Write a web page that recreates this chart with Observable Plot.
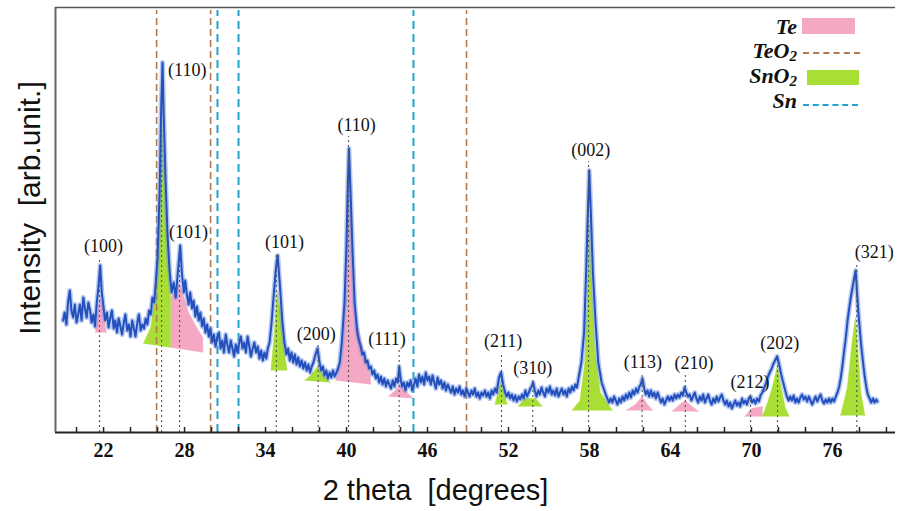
<!DOCTYPE html>
<html><head><meta charset="utf-8">
<script src="https://cdn.jsdelivr.net/npm/d3@7"></script>
<script src="https://cdn.jsdelivr.net/npm/@observablehq/plot@0.6"></script>
<style>
body{margin:0;background:#fff;}
#wrap{position:relative;width:897px;height:511px;overflow:hidden;}
.lg{position:absolute;font-family:"Liberation Serif","DejaVu Serif",serif;font-weight:bold;font-style:italic;font-size:22px;color:#111;text-align:right;width:80px;line-height:22px;}
.lg sub{font-size:15px;vertical-align:-3px;line-height:0;}
.sw{position:absolute;}
</style></head>
<body><div id="wrap"></div>
<script>
// ---- data ----
// XRD scan: [2theta (deg), intensity (arb.)]
const scan = [
[19.0,112],[19.12,120],[19.25,108],[19.37,130],[19.5,142],[19.62,122],[19.75,115],[19.87,128],[20.0,110],[20.12,118],[20.25,128],[20.37,112],[20.5,135],[20.62,124],[20.75,115],[20.87,130],[21.0,122],[21.12,110],[21.25,118],[21.37,106],[21.5,130],[21.62,145],[21.75,167],[21.87,140],[22.0,125],[22.12,112],[22.25,120],[22.37,105],[22.5,115],[22.62,122],[22.75,104],[22.87,112],[23.0,100],[23.12,114],[23.25,106],[23.37,98],[23.5,110],[23.62,118],[23.75,102],[23.87,108],[24.0,96],[24.12,112],[24.25,104],[24.37,96],[24.5,110],[24.62,118],[24.75,102],[24.87,108],[25.0,104],[25.12,114],[25.25,108],[25.37,122],[25.5,118],[25.62,135],[25.75,130],[25.87,150],[26.0,175],[26.15,240],[26.28,330],[26.37,370],[26.45,320],[26.6,250],[26.75,195],[26.9,160],[27.05,140],[27.2,150],[27.35,135],[27.5,160],[27.6,175],[27.68,187],[27.8,160],[27.95,140],[28.05,152],[28.17,138],[28.3,128],[28.42,140],[28.55,124],[28.67,132],[28.8,116],[28.92,126],[29.05,112],[29.17,120],[29.3,106],[29.42,114],[29.55,100],[29.67,108],[29.8,96],[29.92,104],[30.05,90],[30.17,98],[30.3,86],[30.42,95],[30.55,100],[30.67,84],[30.8,92],[30.92,80],[31.05,98],[31.17,88],[31.3,80],[31.42,92],[31.55,84],[31.67,76],[31.8,88],[31.92,80],[32.05,90],[32.17,96],[32.3,84],[32.42,90],[32.55,80],[32.67,96],[32.8,86],[32.92,76],[33.05,84],[33.17,90],[33.3,80],[33.42,86],[33.55,74],[33.67,82],[33.8,72],[33.92,80],[34.05,74],[34.17,84],[34.3,90],[34.45,110],[34.62,140],[34.78,165],[34.9,177],[35.05,150],[35.25,110],[35.4,90],[35.55,78],[35.67,84],[35.8,72],[35.92,80],[36.05,70],[36.17,78],[36.3,68],[36.42,75],[36.55,66],[36.67,72],[36.8,64],[36.92,70],[37.05,62],[37.17,68],[37.3,60],[37.42,66],[37.55,70],[37.7,78],[37.85,84],[38.0,70],[38.12,62],[38.25,66],[38.37,57],[38.5,62],[38.62,54],[38.75,60],[38.87,55],[39.0,62],[39.12,56],[39.25,60],[39.37,64],[39.5,70],[39.65,90],[39.85,130],[40.0,190],[40.1,250],[40.18,284],[40.3,240],[40.45,180],[40.6,130],[40.8,100],[40.92,92],[41.05,86],[41.17,78],[41.3,80],[41.42,70],[41.55,72],[41.67,64],[41.8,66],[41.92,58],[42.05,62],[42.17,54],[42.3,58],[42.42,50],[42.55,56],[42.67,48],[42.8,54],[42.92,46],[43.05,52],[43.17,48],[43.3,44],[43.42,52],[43.55,46],[43.67,54],[43.8,50],[43.9,66],[44.0,54],[44.12,46],[44.25,50],[44.37,42],[44.5,50],[44.62,46],[44.75,52],[44.87,42],[45.0,48],[45.12,54],[45.25,46],[45.37,58],[45.5,50],[45.62,56],[45.75,48],[45.87,60],[46.0,52],[46.12,56],[46.25,48],[46.37,57],[46.5,50],[46.62,44],[46.75,55],[46.87,48],[47.0,52],[47.12,44],[47.25,50],[47.37,42],[47.5,48],[47.62,44],[47.75,40],[47.87,46],[48.0,38],[48.12,44],[48.25,40],[48.37,46],[48.5,38],[48.62,42],[48.75,36],[48.87,44],[49.0,40],[49.12,36],[49.25,42],[49.37,38],[49.5,44],[49.62,36],[49.75,40],[49.87,34],[50.0,40],[50.12,37],[50.25,42],[50.37,36],[50.5,40],[50.62,34],[50.75,42],[50.87,38],[51.0,44],[51.12,40],[51.3,55],[51.45,60],[51.6,48],[51.75,40],[51.87,36],[52.0,40],[52.12,34],[52.25,38],[52.37,32],[52.5,37],[52.62,31],[52.75,36],[52.87,33],[53.0,38],[53.12,34],[53.25,42],[53.37,36],[53.5,40],[53.62,44],[53.72,46],[53.82,50],[53.95,42],[54.07,36],[54.2,42],[54.32,38],[54.45,45],[54.57,40],[54.7,36],[54.82,44],[54.95,40],[55.07,46],[55.2,38],[55.32,42],[55.45,37],[55.57,44],[55.7,36],[55.82,40],[55.95,44],[56.07,38],[56.2,42],[56.32,36],[56.45,44],[56.57,40],[56.7,46],[56.82,42],[56.95,48],[57.07,45],[57.2,55],[57.4,70],[57.6,100],[57.75,160],[57.88,220],[57.98,262],[58.1,220],[58.25,160],[58.45,110],[58.65,70],[58.9,50],[59.05,44],[59.2,38],[59.32,34],[59.45,30],[59.57,34],[59.7,30],[59.82,36],[59.95,32],[60.07,28],[60.2,34],[60.32,30],[60.45,36],[60.57,32],[60.7,38],[60.82,34],[60.95,40],[61.07,35],[61.2,42],[61.32,38],[61.45,44],[61.57,40],[61.7,46],[61.8,48],[61.92,54],[62.05,44],[62.17,38],[62.3,42],[62.42,36],[62.55,42],[62.67,36],[62.8,40],[62.92,34],[63.05,40],[63.17,35],[63.3,30],[63.42,34],[63.55,28],[63.67,32],[63.8,36],[63.92,32],[64.05,36],[64.17,32],[64.3,38],[64.42,34],[64.55,38],[64.67,35],[64.8,40],[64.92,37],[65.05,45],[65.17,40],[65.3,36],[65.42,38],[65.55,32],[65.67,36],[65.8,40],[65.92,34],[66.05,30],[66.17,36],[66.3,32],[66.42,38],[66.55,30],[66.67,34],[66.8,38],[66.92,32],[67.05,28],[67.17,34],[67.3,30],[67.42,36],[67.55,31],[67.67,35],[67.8,38],[67.92,32],[68.05,28],[68.17,32],[68.3,26],[68.42,30],[68.55,24],[68.67,28],[68.8,32],[68.92,27],[69.05,30],[69.17,26],[69.3,34],[69.42,29],[69.55,32],[69.67,28],[69.8,34],[69.92,36],[70.05,30],[70.17,33],[70.3,29],[70.42,34],[70.55,31],[70.67,37],[70.8,40],[70.92,44],[71.05,48],[71.2,55],[71.35,60],[71.5,64],[71.6,68],[71.75,72],[71.9,76],[72.05,68],[72.2,58],[72.35,50],[72.5,42],[72.62,36],[72.75,32],[72.87,36],[73.0,32],[73.12,37],[73.25,30],[73.37,34],[73.5,30],[73.62,35],[73.75,38],[73.87,33],[74.0,36],[74.12,31],[74.25,36],[74.37,32],[74.5,28],[74.62,32],[74.75,36],[74.87,31],[75.0,35],[75.12,38],[75.25,32],[75.37,29],[75.5,33],[75.62,30],[75.75,34],[75.87,30],[76.0,34],[76.12,31],[76.25,36],[76.37,40],[76.5,46],[76.62,55],[76.75,68],[76.87,82],[77.0,96],[77.12,112],[77.25,125],[77.37,136],[77.5,146],[77.62,155],[77.72,162],[77.82,140],[77.92,120],[78.02,104],[78.12,88],[78.25,72],[78.37,58],[78.5,46],[78.62,38],[78.75,34],[78.87,30],[79.0,34],[79.12,30],[79.25,33],[79.32,31]
];
// phase-coloured peak regions (polygons of [2theta, intensity])
const teFills = [
 [[21.4,100],[21.6,125],[21.75,135],[22.0,120],[22.2,100]],
 [[26.97,85],[26.97,135],[27.3,142],[27.6,150],[27.85,140],[28.3,120],[28.9,105],[29.35,95],[29.35,80]],
 [[39.2,52],[39.6,75],[39.9,140],[40.07,230],[40.17,275],[40.3,220],[40.5,150],[40.8,110],[41.2,85],[41.7,65],[41.8,48]],
 [[43.1,36],[43.6,42],[43.92,48],[44.5,40],[44.9,34]],
 [[60.7,22],[61.4,28],[61.9,36],[62.3,28],[62.7,22]],
 [[64.1,21],[64.7,28],[65.1,32],[65.6,26],[66.1,21]],
 [[69.5,16],[70.0,24],[70.8,26],[70.8,16]]
];
const sno2Fills = [
 [[24.95,89],[25.5,105],[25.9,150],[26.15,230],[26.3,312],[26.55,260],[26.75,200],[26.95,160],[26.95,85]],
 [[34.4,62],[34.65,100],[34.85,142],[35.1,120],[35.35,85],[35.6,62]],
 [[36.9,52],[37.4,58],[37.85,66],[38.3,58],[38.8,50]],
 [[51.0,28],[51.3,45],[51.45,50],[51.6,42],[51.9,28]],
 [[52.7,26],[53.2,34],[54.0,34],[54.5,26]],
 [[56.7,22],[57.3,32],[57.65,70],[57.85,140],[57.98,209],[58.15,150],[58.4,80],[58.8,40],[59.7,22]],
 [[70.8,16],[71.2,30],[71.6,48],[71.9,66],[72.2,45],[72.5,25],[72.8,16]],
 [[76.6,17],[77.1,45],[77.45,90],[77.7,115],[77.9,80],[78.1,40],[78.4,17]]
];
// reference lines
const teo2Lines = [25.93, 29.93, 48.89];
const snLines = [30.44, 32.0, 44.96];
// Miller-index labels
const hkl        = ["(100)","(110)","(101)","(101)","(200)","(110)","(111)","(211)","(310)","(002)","(113)","(210)","(212)","(202)","(321)"];
const peakAngle  = [21.7, 26.3, 27.63, 34.8, 37.9, 40.15, 43.9, 51.48, 53.8, 57.93, 61.9, 65.1, 69.93, 71.93, 77.8];
const labelAngle = [22.0, 28.2, 28.3, 35.4, 37.75, 40.75, 43.0, 51.6, 53.8, 58.1, 61.95, 65.75, 69.9, 72.1, 79.1];
const labelInt   = [186, 362, 200, 190, 98, 307, 93, 91, 64, 282, 70, 69, 50, 89, 180];
const xTicks = [22, 28, 34, 40, 46, 52, 58, 64, 70, 76];
const xMinor = [20,22,24,26,28,30,32,34,36,38,40,42,44,46,48,50,52,54,56,58,60,62,64,66,68,70,72,74,76,78,80];
const xDomain = [18.44, 80.67];
const yDomain = [0, 425];

// ---- build ----
const poly = (arr, phase) => arr.flatMap((p, i) => p.map(([x, y]) => ({x, y, id: phase + i})));
const teRows = poly(teFills, "te");
const snRows = poly(sno2Fills, "sn");
const labels = hkl.map((t, i) => ({t, x: labelAngle[i], y: labelInt[i], px: peakAngle[i]}));
const serif = "Liberation Serif, DejaVu Serif, serif";
const sans = "Liberation Sans, Arial, sans-serif";

const chart = Plot.plot({
  width: 897, height: 511,
  marginLeft: 55, marginRight: 2, marginTop: 7, marginBottom: 79,
  x: {domain: xDomain},
  y: {domain: yDomain, axis: null},
  style: {background: "#fff"},
  marks: [
    Plot.line(teRows, {x: "x", y: "y", z: "id", fill: "#f5a8c4", stroke: "#f5a8c4", strokeWidth: 0.5}),
    Plot.line(snRows, {x: "x", y: "y", z: "id", fill: "#a9df35", stroke: "#a9df35", strokeWidth: 0.5}),
    Plot.ruleX(teo2Lines, {y1: 0, y2: 422, stroke: "#b27a4e", strokeWidth: 1.6, strokeDasharray: "7,4"}),
    Plot.ruleX(snLines, {y1: 0, y2: 422, stroke: "#22a2cc", strokeWidth: 2, strokeDasharray: "8,5"}),
    Plot.line(scan, {x: d => d[0], y: d => d[1], stroke: "#6d93e6", strokeWidth: 5, strokeOpacity: 0.5}),
    Plot.line(scan, {x: d => d[0], y: d => d[1], stroke: "#2450bd", strokeWidth: 2}),
    Plot.ruleX(labels, {x: "px", y1: 0, y2: d => d.y - 11, stroke: "#555", strokeWidth: 1.1, strokeDasharray: "2,3"}),
    Plot.text(labels, {x: "x", y: "y", text: "t", fontFamily: serif, fontSize: 18, fill: "#111", lineAnchor: "middle"}),
    Plot.ruleY([0], {stroke: "#222", strokeWidth: 2.2}),
    Plot.ruleY([425], {stroke: "#555", strokeWidth: 1.5}),
    Plot.ruleX([xDomain[0]], {y1: 0, y2: 425, stroke: "#666", strokeWidth: 2}),
    Plot.ruleX(xMinor, {y1: 0, y2: 5, stroke: "#222", strokeWidth: 1.5}),
    Plot.axisX({ticks: xTicks, tickSize: 0, tickPadding: 10, label: null, fontFamily: serif, fontWeight: "bold", fontSize: 20, fill: "#111"}),
    Plot.text(["2 theta  [degrees]"], {frameAnchor: "bottom", textAnchor: "middle", dx: -40, dy: 58, fontFamily: sans, fontSize: 29, fill: "#111", lineAnchor: "middle"}),
    Plot.text(["Intensity  [arb.unit.]"], {frameAnchor: "left", textAnchor: "middle", dx: -25, dy: -12, rotate: -90, fontFamily: sans, fontSize: 30, fill: "#111", lineAnchor: "middle"})
  ]
});
const wrap = document.getElementById("wrap");
wrap.appendChild(chart);

// legend overlay
const legend = [
  {html: "Te", cy: 27, sw: "rect", color: "#f5a8c4", x0: 802, x1: 855, y0: 18, y1: 34},
  {html: "TeO<sub>2</sub>", cy: 51, sw: "dash", color: "#b27a4e", x0: 803, x1: 860, y0: 53},
  {html: "SnO<sub>2</sub>", cy: 76, sw: "rect", color: "#a9df35", x0: 807, x1: 859, y0: 70, y1: 85},
  {html: "Sn", cy: 101, sw: "dash", color: "#22a2cc", x0: 803, x1: 858, y0: 105}
];
for (const l of legend) {
  const t = document.createElement("div");
  t.className = "lg";
  t.innerHTML = l.html;
  t.style.left = (797 - 80) + "px";
  t.style.top = (l.cy - 11) + "px";
  wrap.appendChild(t);
  const s = document.createElement("div");
  s.className = "sw";
  s.style.left = l.x0 + "px";
  s.style.width = (l.x1 - l.x0) + "px";
  if (l.sw === "rect") {
    s.style.top = l.y0 + "px";
    s.style.height = (l.y1 - l.y0) + "px";
    s.style.background = l.color;
  } else {
    s.style.top = (l.y0 - 1) + "px";
    s.style.height = "0px";
    s.style.borderTop = "2px dashed " + l.color;
  }
  wrap.appendChild(s);
}
</script></body></html>
